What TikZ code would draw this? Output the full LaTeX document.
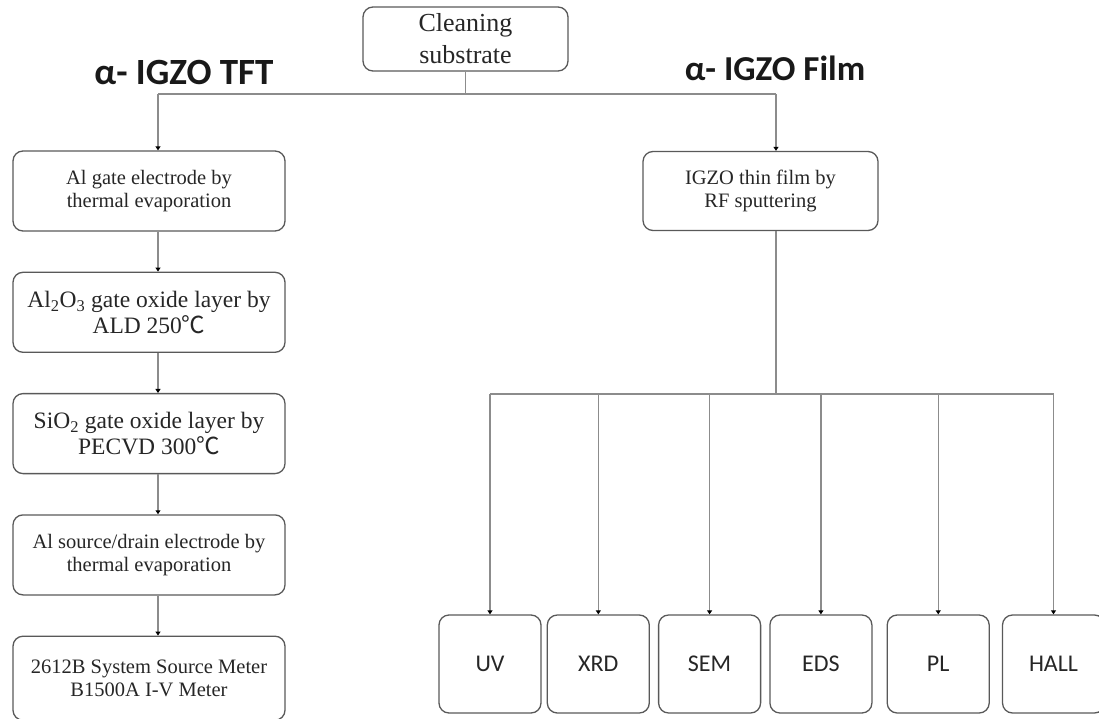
\documentclass[tikz,border=0pt]{standalone}
\usepackage{fontspec}
\setmainfont{Liberation Serif}
\newfontfamily\calibri{Carlito}
\newfontfamily\cjk{Noto Sans CJK SC}
\usetikzlibrary{arrows.meta,positioning}
\newcommand{\degc}{{\cjk ℃}}

\begin{document}
\begin{tikzpicture}[
    x=1pt, y=-1pt,
    node distance=40pt,
    box/.style={draw=black!65, line width=1.3pt, rounded corners=10pt, align=center, text=black!85, minimum width=272pt, minimum height=80pt, inner sep=0pt},
    small/.style={font=\fontsize{20.5}{22.5}\selectfont},
    big/.style={font=\fontsize{23.5}{26}\selectfont},
    test/.style={box, minimum width=102pt, minimum height=98pt, font=\calibri\fontsize{24}{28}\selectfont},
    title/.style={anchor=base, text=black!90},
    wire/.style={draw=black!45, line width=1.2pt},
    link/.style={wire, -{Triangle[width=5pt,length=4pt,color=black]}}
]
\useasboundingbox (0,0) rectangle (1099,719);

\node[box, minimum width=205pt, minimum height=64pt, font=\fontsize{26}{32}\selectfont] (clean) at (465.5,39) {Cleaning\\substrate};
\node[title, font=\calibri\bfseries\fontsize{37}{40}\selectfont] (tft) at (184,85) {α- IGZO TFT};
\node[title, font=\calibri\bfseries\fontsize{35}{40}\selectfont] (film) at (775,81) {α- IGZO Film};

% TFT branch
\node[box, small] (gate) at (149,191) {Al gate electrode by\\thermal evaporation};
\node[box, big, below=of gate] (alox) {Al\textsubscript{2}O\textsubscript{3} gate oxide layer by\\ALD 250\degc};
\node[box, big, below=of alox] (siox) {SiO\textsubscript{2} gate oxide layer by\\PECVD 300\degc};
\node[box, small, below=of siox] (drain) {Al source/drain electrode by\\thermal evaporation};
\node[box, small, below=of drain, minimum height=84pt] (meter) {2612B System Source Meter\\B1500A I-V Meter};

% film branch
\node[box, small, minimum width=235pt, minimum height=79pt] (igzo) at (760.5,191) {IGZO thin film by\\RF sputtering};
\node[test] (uv) at (490,664) {UV};
\node[test, right=5pt of uv] (xrd) {XRD};
\node[test, right=8pt of xrd] (sem) {SEM};
\node[test, right=8pt of sem] (eds) {EDS};
\node[test, right=14pt of eds] (pl) {PL};
\node[test, right=12pt of pl] (hall) {HALL};

\coordinate (tftdrop) at (158,94);
\coordinate (filmdrop) at (776,94);
\coordinate (fork) at (776,394);

\draw[wire] (clean.south) -- (clean.south |- tftdrop);
\draw[wire] (tftdrop) -- (filmdrop);
\draw[link] (tftdrop) -- (tftdrop |- gate.north);
\draw[link] (filmdrop) -- (filmdrop |- igzo.north);

\draw[link] (gate.south -| tftdrop) -- (alox.north -| tftdrop);
\draw[link] (alox.south -| tftdrop) -- (siox.north -| tftdrop);
\draw[link] (siox.south -| tftdrop) -- (drain.north -| tftdrop);
\draw[link] (drain.south -| tftdrop) -- (meter.north -| tftdrop);

\draw[wire] (igzo.south -| fork) -- (fork);
\draw[wire] (fork -| uv) -- (fork -| hall);
\draw[link] (fork -| uv) -- (uv.north);
\draw[link] (fork -| xrd) -- (xrd.north);
\draw[link] (fork -| sem) -- (sem.north);
\draw[link] (fork -| eds) -- (eds.north);
\draw[link] (fork -| pl) -- (pl.north);
\draw[link] (fork -| hall) -- (hall.north);
\end{tikzpicture}
\end{document}
